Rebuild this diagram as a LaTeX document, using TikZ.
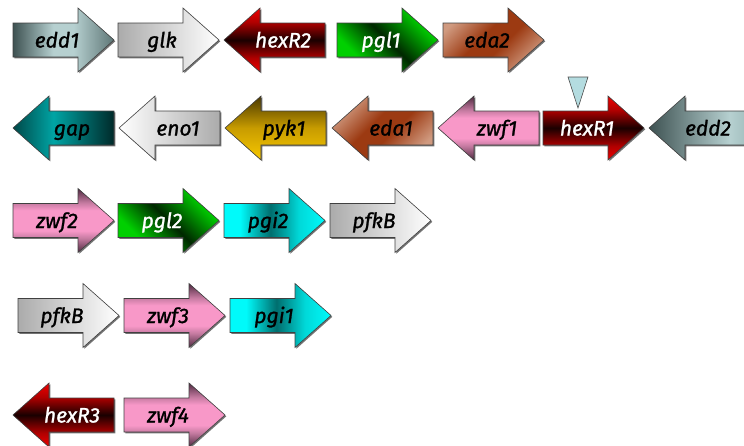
\documentclass[tikz,border=0pt]{standalone}
\usepackage{fontspec}
\newfontfamily\genefont{Fira Sans}[FakeBold=1.2]
\begin{document}
% colours of the gene arrows
\definecolor{eddD}{HTML}{3E5252}\definecolor{eddL}{HTML}{B6D0D0}\definecolor{eddM}{HTML}{5E7676}
\definecolor{eddE}{HTML}{A0BCBC}
\definecolor{glkG}{HTML}{ABABAB}
\definecolor{hexRed}{HTML}{F00000}\definecolor{hexMid}{HTML}{B00000}\definecolor{hexDark}{HTML}{1A0000}
\definecolor{pglG}{HTML}{00D000}\definecolor{pglD}{HTML}{002800}
\definecolor{edaL}{HTML}{D09A80}\definecolor{edaB}{HTML}{9C3A12}
\definecolor{gapD}{HTML}{004848}\definecolor{gapM}{HTML}{00A4A4}\definecolor{gapE}{HTML}{002A2A}
\definecolor{pykD}{HTML}{4A3800}\definecolor{pykM}{HTML}{C89C00}\definecolor{pykY}{HTML}{F8C800}
\definecolor{zwfD}{HTML}{4E2A40}\definecolor{zwfM}{HTML}{C47AA0}\definecolor{zwfP}{HTML}{F898C8}
\definecolor{pgiC}{HTML}{00FAFA}\definecolor{pgiD}{HTML}{006E6E}\definecolor{pgiE}{HTML}{00D8D8}
\definecolor{markFill}{HTML}{B4DCE0}
% shadings (the path box spans 25bp..75bp; vertical ones run bottom to top)
\pgfdeclarehorizontalshading{sh-eddR}{100bp}{color(0bp)=(eddD); color(25bp)=(eddD); color(45bp)=(eddL); color(55bp)=(eddL); color(75bp)=(eddM); color(100bp)=(eddM)}
\pgfdeclarehorizontalshading{sh-eddL}{100bp}{color(0bp)=(eddD); color(25bp)=(eddD); color(65bp)=(eddL); color(75bp)=(eddE); color(100bp)=(eddE)}
\pgfdeclarehorizontalshading{sh-grayR}{100bp}{color(0bp)=(glkG); color(25bp)=(glkG); color(75bp)=(white); color(100bp)=(white)}
\pgfdeclarehorizontalshading{sh-grayL}{100bp}{color(0bp)=(white); color(25bp)=(white); color(75bp)=(glkG); color(100bp)=(glkG)}
\pgfdeclareverticalshading{sh-hex}{100bp}{color(0bp)=(hexRed); color(25bp)=(hexRed); color(36bp)=(hexMid); color(50bp)=(hexDark); color(64bp)=(hexMid); color(75bp)=(hexRed); color(100bp)=(hexRed)}
\pgfdeclarehorizontalshading{sh-pgl}{100bp}{color(0bp)=(pglG); color(30bp)=(pglG); color(50bp)=(pglD); color(72bp)=(pglG); color(100bp)=(pglG)}
\pgfdeclarehorizontalshading{sh-eda}{100bp}{color(0bp)=(edaL); color(25bp)=(edaL); color(44bp)=(edaB); color(56bp)=(edaB); color(75bp)=(edaL); color(100bp)=(edaL)}
\pgfdeclarehorizontalshading{sh-gap}{100bp}{color(0bp)=(gapD); color(25bp)=(gapD); color(45bp)=(gapM); color(75bp)=(gapE); color(100bp)=(gapE)}
\pgfdeclareverticalshading{sh-pyk}{100bp}{color(0bp)=(pykY); color(25bp)=(pykY); color(50bp)=(pykM); color(75bp)=(pykD); color(100bp)=(pykD)}
\pgfdeclareverticalshading{sh-zwf}{100bp}{color(0bp)=(zwfD); color(25bp)=(zwfD); color(36bp)=(zwfM); color(42bp)=(zwfP); color(58bp)=(zwfP); color(64bp)=(zwfM); color(75bp)=(zwfD); color(100bp)=(zwfD)}
\pgfdeclarehorizontalshading{sh-pgi}{100bp}{color(0bp)=(pgiC); color(33bp)=(pgiC); color(48bp)=(pgiD); color(62bp)=(pgiE); color(75bp)=(pgiC); color(100bp)=(pgiC)}
% outlines of a forward and a reverse arrow, 101 long
\def\rpath{(0,-17) -- (65,-17) -- (65,-32) -- (101,0) -- (65,32) -- (65,17) -- (0,17) -- cycle}
\def\lpath{(101,-17) -- (36,-17) -- (36,-32) -- (0,0) -- (36,32) -- (36,17) -- (101,17) -- cycle}
\tikzset{
  genshadow/.style={fill=black!55},
  genbody/.style={draw=black!75, line width=0.6pt, shade},
  genlabel/.style={font=\genefont\itshape\fontsize{21}{22}\selectfont, inner sep=0pt, anchor=base},
}
% forward gene: name, tail x, centre y, shading, angle, text colour, label
\newcommand\geneFwd[7]{%
  \begin{scope}[shift={(#2,#3)}]
    \fill[genshadow, shift={(1.3,1.3)}] \rpath;
    \path[genbody, shading=#4, shading angle=#5] \rpath;
    \node[genlabel, text=#6] (#1) at (44,7.5) {#7};
  \end{scope}}
% reverse gene: name, tip x, centre y, shading, angle, text colour, label
\newcommand\geneRev[7]{%
  \begin{scope}[shift={(#2,#3)}]
    \fill[genshadow, shift={(1.3,1.3)}] \lpath;
    \path[genbody, shading=#4, shading angle=#5] \lpath;
    \node[genlabel, text=#6] (#1) at (59,7.5) {#7};
  \end{scope}}
\begin{tikzpicture}[x=1pt, y=-1pt]
  \useasboundingbox (0,0) rectangle (744,445);
  \clip (0,0) rectangle (744,445);
  % row 1
  \geneFwd{edd1}{13}{40}{sh-eddR}{0}{black}{edd1}
  \geneFwd{glk}{118}{40}{sh-grayR}{0}{black}{glk}
  \geneRev{hexR2}{224}{40}{sh-hex}{0}{white}{hexR2}
  \geneFwd{pgl1}{337}{40}{sh-pgl}{45}{white}{pgl1}
  \geneFwd{eda2}{443}{40}{sh-eda}{-45}{black}{eda2}
  % row 2
  \geneRev{gap}{13}{128}{sh-gap}{0}{black}{gap}
  \geneRev{eno1}{119}{128}{sh-grayL}{0}{black}{eno1}
  \geneRev{pyk1}{225}{128}{sh-pyk}{0}{black}{pyk1}
  \geneRev{eda1}{332}{128}{sh-eda}{-45}{black}{eda1}
  \geneRev{zwf1}{438}{128}{sh-zwf}{0}{black}{zwf1}
  \geneFwd{hexR1}{543}{128}{sh-hex}{0}{white}{hexR1}
  \geneRev{edd2}{649}{128}{sh-eddL}{0}{black}{edd2}
  % marker above hexR1
  \filldraw[fill=markFill, draw=black!70, line width=0.6pt] (568,77) -- (588,77) -- (578,108) -- cycle;
  % row 3
  \geneFwd{zwf2}{13}{220.5}{sh-zwf}{0}{black}{zwf2}
  \geneFwd{pgl2}{118}{220.5}{sh-pgl}{45}{white}{pgl2}
  \geneFwd{pgi2}{224}{220.5}{sh-pgi}{0}{black}{pgi2}
  \geneFwd{pfkBa}{330}{220.5}{sh-grayR}{0}{black}{pfkB}
  % row 4
  \geneFwd{pfkBb}{18}{315.5}{sh-grayR}{0}{black}{pfkB}
  \geneFwd{zwf3}{124}{315.5}{sh-zwf}{0}{black}{zwf3}
  \geneFwd{pgi1}{230}{315.5}{sh-pgi}{0}{black}{pgi1}
  % row 5
  \geneRev{hexR3}{13}{415}{sh-hex}{0}{white}{hexR3}
  \geneFwd{zwf4}{124}{415}{sh-zwf}{0}{black}{zwf4}
\end{tikzpicture}
\end{document}
